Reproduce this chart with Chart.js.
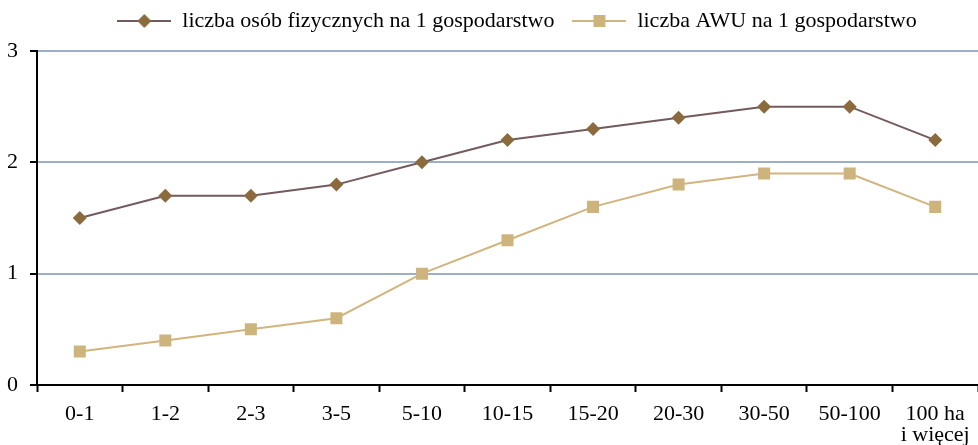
<!DOCTYPE html>
<html>
<head>
<meta charset="utf-8">
<script src="https://cdn.jsdelivr.net/npm/chart.js@4"></script>
<style>
  html, body { margin: 0; padding: 0; background: #fff; overflow: hidden; }
  #wrap { width: 978px; height: 445px; }
</style>
</head>
<body>
<div id="wrap"><canvas id="myChart"></canvas></div>
<script>
// Grupy obszarowe gospodarstw
const kategorie = ['0-1', '1-2', '2-3', '3-5', '5-10', '10-15', '15-20', '20-30', '30-50', '50-100', ['100 ha', 'i więcej']];
// Liczba osób fizycznych na 1 gospodarstwo
const osoby = [1.5, 1.7, 1.7, 1.8, 2.0, 2.2, 2.3, 2.4, 2.5, 2.5, 2.2];
// Liczba AWU na 1 gospodarstwo
const awu = [0.3, 0.4, 0.5, 0.6, 1.0, 1.3, 1.6, 1.8, 1.9, 1.9, 1.6];
const osTicks = [0, 1, 2, 3];

const font = { family: '"Liberation Serif", "Times New Roman", serif', size: 22, lineHeight: 0.95 };

// Ikona legendy: odcinek linii z markerem pośrodku
function ikona(lineColor, markColor, ksztalt) {
  const c = document.createElement('canvas');
  c.width = 54; c.height = 16;
  const g = c.getContext('2d');
  g.strokeStyle = lineColor;
  g.lineWidth = 2;
  g.beginPath(); g.moveTo(0, 8); g.lineTo(54, 8); g.stroke();
  g.fillStyle = markColor;
  if (ksztalt === 'diamond') {
    g.beginPath(); g.moveTo(27, 1); g.lineTo(34, 8); g.lineTo(27, 15); g.lineTo(20, 8); g.closePath(); g.fill();
  } else {
    g.fillRect(21, 2, 12, 12);
  }
  return c;
}

// Przesunięcie legendy względem środka płótna
const przesunLegende = {
  id: 'przesunLegende',
  afterLayout(chart) {
    const l = chart.legend;
    l.left += 28; l.right += 28;
    l.top -= 9; l.bottom -= 9;
  }
};

const ctx = document.getElementById('myChart').getContext('2d');

const data = {
  labels: kategorie,
  datasets: [{
    label: 'liczba osób fizycznych na 1 gospodarstwo',
    data: osoby,
    borderColor: '#735A5C',
    borderWidth: 2,
    pointStyle: 'rectRot',
    pointRadius: 7,
    pointHoverRadius: 7,
    pointBackgroundColor: '#8B6B3D',
    pointBorderColor: '#8B6B3D',
    pointBorderWidth: 0,
    tension: 0
  }, {
    label: 'liczba AWU na 1 gospodarstwo',
    data: awu,
    borderColor: '#D2B57E',
    borderWidth: 2,
    pointStyle: 'rect',
    pointRadius: 8.5,
    pointHoverRadius: 8.5,
    pointBackgroundColor: '#CDB47C',
    pointBorderColor: '#CDB47C',
    pointBorderWidth: 0,
    tension: 0
  }]
};

const ikony = [ikona('#735A5C', '#8B6B3D', 'diamond'), ikona('#D2B57E', '#CDB47C', 'square')];

const options = {
  responsive: true,
  maintainAspectRatio: false,
  animation: false,
  layout: { autoPadding: false, padding: { top: 1, right: 0, left: 0, bottom: 0 } },
  plugins: {
    tooltip: { enabled: false },
    legend: {
      position: 'top',
      labels: {
        font: font,
        color: '#000',
        usePointStyle: true,
        pointStyleWidth: 54,
        boxHeight: 16,
        padding: 18,
        generateLabels: (chart) => chart.data.datasets.map((ds, i) => ({
          text: ds.label,
          pointStyle: ikony[i],
          fontColor: '#000',
          datasetIndex: i,
          lineWidth: 0
        }))
      }
    }
  },
  scales: {
    x: {
      offset: true,
      afterFit: (s) => { s.height = 60; s.paddingLeft = 0; s.paddingRight = 0; },
      border: { color: '#000', width: 2 },
      grid: { drawOnChartArea: false, offset: true, tickLength: 7, tickColor: '#000', tickWidth: 2 },
      ticks: { font: font, color: '#000', maxRotation: 0, autoSkip: false, padding: 12 }
    },
    y: {
      min: 0,
      max: 3,
      afterFit: (s) => { s.width = 37; },
      afterBuildTicks: (s) => { s.ticks = osTicks.map(v => ({ value: v })); },
      border: { color: '#000', width: 2 },
      grid: { color: '#9BAFC6', lineWidth: 2, tickLength: 7, tickColor: '#000', tickWidth: 2 },
      ticks: { font: font, color: '#000', padding: 12 }
    }
  }
};

const chart = new Chart(ctx, {
  type: 'line',
  data: data,
  options: options,
  plugins: [przesunLegende]
});
</script>
</body>
</html>
